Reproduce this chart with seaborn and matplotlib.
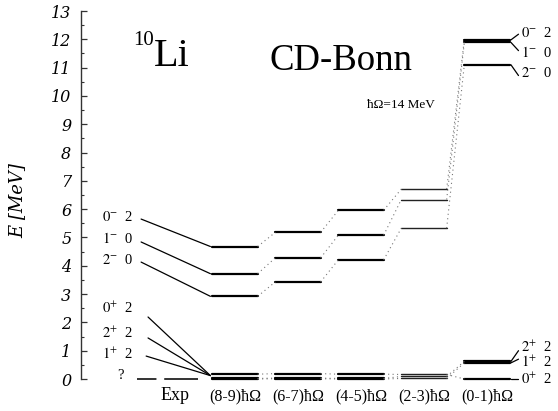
import numpy as np
import pandas as pd
import seaborn as sns
import matplotlib
matplotlib.use('Agg')
import matplotlib.pyplot as plt
from matplotlib.ticker import MultipleLocator

# data (MeV)
columns = ['Exp', '(8-9)ħΩ', '(6-7)ħΩ', '(4-5)ħΩ', '(2-3)ħΩ', '(0-1)ħΩ']
states = ['1+', '2+', '0+', '2-', '1-', '0-']
state_labels = [r'$1^{+}$  2', r'$2^{+}$  2', r'$0^{+}$  2',
                r'$2^{-}$  0', r'$1^{-}$  0', r'$0^{-}$  2']
e_exp = [0.0]
e_89 = [0.00, 0.02, 0.17, 2.92, 3.72, 4.68]
e_67 = [0.01, 0.03, 0.19, 3.43, 4.28, 5.18]
e_45 = [0.00, 0.02, 0.17, 4.21, 5.08, 5.96]
e_23 = [0.02, 0.09, 0.16, 5.33, 6.34, 6.71]
e_01 = [0.57, 0.62, 0.00, 11.10, 11.89, 11.98]
theory = [e_89, e_67, e_45, e_23, e_01]
yticks = list(range(0, 14))

sns.set_theme(style='white')
plt.rcParams['font.family'] = ['Liberation Serif', 'DejaVu Serif']
plt.rcParams['mathtext.fontset'] = 'stix'
plt.rcParams['text.color'] = 'black'
plt.rcParams['axes.labelcolor'] = 'black'
plt.rcParams['ytick.labelcolor'] = 'black'

fig = plt.figure(figsize=(5.58, 4.11), dpi=100)
ax = fig.add_axes([81/558, 32/411, 477/558, 368/411])
ax.set_xlim(-1.444, 6.127)
ax.set_ylim(0, 13)

hw = 0.36  # half width of a level bar

# long table of level segments
rows = []
for ci, ens in enumerate(theory, start=1):
    for s, e in zip(states, ens):
        for side in (-1, 1):
            rows.append(dict(col=columns[ci], cx=ci, state=s, E=e,
                             x=ci + side * hw, uid=f'{ci}_{s}'))
seg = pd.DataFrame(rows)

thick = seg[seg['col'] != '(2-3)ħΩ']
thin = seg[seg['col'] == '(2-3)ħΩ']
sns.lineplot(data=thick, x='x', y='E', units='uid', estimator=None, sort=False,
             color='black', lw=1.6, ax=ax, legend=False)
sns.lineplot(data=thin, x='x', y='E', units='uid', estimator=None, sort=False,
             color='#222222', lw=1.0, ax=ax, legend=False)
for ln in ax.lines:
    ln.set_clip_on(False)

# experimental ground state, spin unknown
ax.plot([-0.56, 0.42], [e_exp[0], e_exp[0]], color='#333333', lw=1.4,
        ls=(0, (10, 4, 33, 3)), clip_on=False)
ax.text(-0.82, 0.12, '?', fontsize=10.5, ha='center', va='center')

# dotted connectors between neighbouring columns
for ci in range(len(theory) - 1):
    for e1, e2 in zip(theory[ci], theory[ci + 1]):
        ax.plot([ci + 1 + hw, ci + 2 - hw], [e1, e2], ls=(0, (1, 3)), lw=0.8,
                color='#777777', clip_on=False)

# left labels and solid connectors to the (8-9) column
left_text_y = [0.88, 1.62, 2.50, 4.20, 4.95, 5.72]
left_line_y = [0.81, 1.45, 2.19, 4.13, 4.84, 5.65]
left_line_x = [-0.41, -0.38, -0.38, -0.49, -0.49, -0.49]
for lab, ty, ly, lx, e in zip(state_labels, left_text_y, left_line_y,
                             left_line_x, e_89):
    ax.text(-0.87, ty, lab, fontsize=10.5, ha='center', va='center')
    end_e = 0.12 if ly < 3 else e
    ax.plot([lx, 1 - hw - 0.03], [ly, end_e], color='black', lw=0.9)

# right labels for the (0-1) column
right_text_y = [0.60, 1.13, 0.00, 10.80, 11.54, 12.24]
right_line_y = [0.70, 1.00, 0.00, 10.72, 11.60, 12.18]
for lab, ty, ly, e in zip(state_labels, right_text_y, right_line_y, e_01):
    ax.text(5.54, ty, lab, fontsize=10.5, ha='left', va='center')
    ax.plot([5 + hw + 0.02, 5.50], [e, ly], color='black', lw=0.9,
            clip_on=False)

# column labels
for ci, name in enumerate(columns):
    fs = 13 if name == 'Exp' else 11.5
    ax.text(ci + (0.05 if ci == 0 else 0), -0.6, name, fontsize=fs,
            ha='center', va='center', clip_on=False)

# titles
ax.text(-0.28, 11.8, '10', fontsize=15, ha='right', va='baseline')
ax.text(-0.28, 11.06, 'Li', fontsize=29, ha='left', va='baseline')
ax.text(2.683, 10.92, 'CD-Bonn', fontsize=26.5, ha='center', va='baseline')
ax.text(3.635, 9.68, 'ħΩ=14 MeV', fontsize=9.5, ha='center', va='center')

# axis styling: only the left spine with inward ticks
sns.despine(ax=ax, top=True, right=True, bottom=True)
ax.spines['left'].set_color('#333333')
ax.spines['left'].set_linewidth(1.0)
ax.set_xticks([])
ax.set_yticks(yticks)
ax.yaxis.set_minor_locator(MultipleLocator(0.5))
ax.tick_params(axis='y', which='major', direction='in', length=4.5, width=0.9,
               color='#333333', pad=7, left=True, labelcolor='black')
ax.tick_params(axis='y', which='minor', direction='in', length=2.5, width=0.8,
               color='#333333', left=True)
ax.set_yticklabels([str(t) for t in yticks], fontsize=11.5, style='italic',
                   family='DejaVu Serif')
ax.set_xlabel('')
ax.set_ylabel('E [MeV]', fontsize=13, style='italic', family='DejaVu Serif',
              color='black')
ax.yaxis.set_label_coords(-0.115, 0.486)

fig.savefig('out.png', dpi=100)
plt.close('all')
